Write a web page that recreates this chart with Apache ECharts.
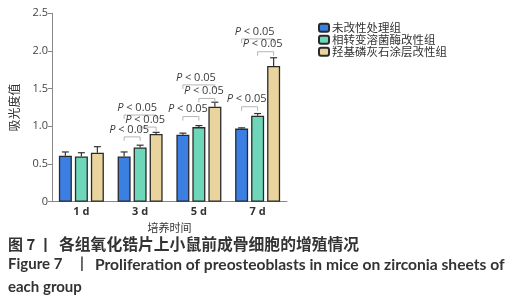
<!DOCTYPE html>
<html>
<head>
<meta charset="utf-8">
<script src="https://cdn.jsdelivr.net/npm/echarts@6/dist/echarts.min.js"></script>
<style>html,body{margin:0;padding:0;background:#fff}#c{width:518px;height:300px}</style>
</head>
<body>
<div id="c"></div>
<script>
const categories = ['1 d', '3 d', '5 d', '7 d'];
const groupNames = ['未改性处理组', '相转变溶菌酶改性组', '羟基磷灰石涂层改性组'];
const untreated = [0.61, 0.60, 0.89, 0.97];
const untreatedErr = [0.05, 0.06, 0.02, 0.01];
const lysozyme = [0.60, 0.72, 0.99, 1.14];
const lysozymeErr = [0.05, 0.03, 0.02, 0.03];
const hydroxyapatite = [0.65, 0.90, 1.26, 1.80];
const hydroxyapatiteErr = [0.08, 0.02, 0.06, 0.11];
const yTicks = [0, 0.5, 1.0, 1.5, 2.0, 2.5];
// significance brackets: [category index, from group, to group, bracket level]
const brackets = [
  [1, 0, 2, 1.15], [1, 1, 2, 0.99], [1, 0, 1, 0.86],
  [2, 0, 2, 1.55], [2, 1, 2, 1.37], [2, 0, 1, 1.13],
  [3, 0, 2, 2.16], [3, 1, 2, 1.99], [3, 0, 1, 1.26]
];
const sigLabel = 'P < 0.05';

const values = [untreated, lysozyme, hydroxyapatite];
const errs = [untreatedErr, lysozymeErr, hydroxyapatiteErr];
const colors = ['#3b7fe3', '#6ed7b9', '#e9d49d'];
const BW = 13, GAP = 3;
const off = g => (g - 1) * (BW + GAP);

const errData = [];
values.forEach((arr, g) => arr.forEach((v, i) => errData.push([i, g, v, v + errs[g][i]])));

const chart = echarts.init(document.getElementById('c'), null, {renderer: 'canvas'});
const font = '"Noto Sans CJK SC", "Noto Sans", sans-serif';

const option = {
  animation: false,
  backgroundColor: '#fff',
  textStyle: {fontFamily: font},
  grid: {left: 52, right: 231, top: 13.3, bottom: 98.3, containLabel: false},
  legend: {
    orient: 'vertical', left: 313, top: 17,
    itemWidth: 10, itemHeight: 8, itemGap: 0.5,
    data: groupNames,
    textStyle: {fontSize: 11.5, color: '#333', lineHeight: 11.5, padding: [0, 0, 0, -2], fontFamily: font}
  },
  xAxis: {
    type: 'category', data: categories,
    axisLine: {lineStyle: {color: '#888', width: 1}},
    axisTick: {alignWithLabel: true, length: 3, lineStyle: {color: '#888'}},
    axisLabel: {color: '#333', fontSize: 11, fontWeight: 'bold', margin: 5, fontFamily: 'Open Sans'},
    name: '培养时间', nameLocation: 'middle', nameGap: 17,
    nameTextStyle: {fontSize: 11, color: '#333', fontFamily: font}
  },
  yAxis: {
    type: 'value', min: yTicks[0], max: yTicks[yTicks.length - 1], interval: 0.5,
    splitLine: {show: false},
    axisLine: {show: true, lineStyle: {color: '#888', width: 1}},
    axisTick: {show: true, length: 4, lineStyle: {color: '#888'}},
    axisLabel: {color: '#444', fontSize: 11, margin: 4, fontFamily: 'Open Sans',
      formatter: v => v === 0 ? '0' : v.toFixed(1)},
    name: '吸光度值', nameLocation: 'middle', nameGap: 32, nameRotate: 90,
    nameTextStyle: {fontSize: 12, color: '#333', fontFamily: font}
  },
  series: [
    ...values.map((arr, g) => ({
      type: 'bar', name: groupNames[g], data: arr, barWidth: BW, barGap: (GAP / BW * 100) + '%',
      itemStyle: {color: colors[g], borderColor: '#2a2a2a', borderWidth: 1.3}
    })),
    {
      type: 'custom', name: 'err', silent: true, clip: false, z: 5,
      encode: {x: 0, y: 3},
      data: errData,
      renderItem: (params, api) => {
        const c = api.value(0), g = api.value(1);
        const p0 = api.coord([c, api.value(2)]);
        const p1 = api.coord([c, api.value(3)]);
        const x = p0[0] + off(g);
        const st = {stroke: '#333', lineWidth: 1.2};
        return {type: 'group', children: [
          {type: 'line', shape: {x1: x, y1: p0[1], x2: x, y2: p1[1]}, style: st},
          {type: 'line', shape: {x1: x - 3.5, y1: p1[1], x2: x + 3.5, y2: p1[1]}, style: st}
        ]};
      }
    },
    {
      type: 'custom', name: 'sig', silent: true, clip: false, z: 6,
      encode: {x: 0, y: 3},
      data: brackets,
      renderItem: (params, api) => {
        const c = api.value(0), a = api.value(1), b = api.value(2), lvl = api.value(3);
        const p = api.coord([c, lvl]);
        const x1 = p[0] + off(a), x2 = p[0] + off(b), y = p[1];
        const st = {stroke: '#b5b5b5', lineWidth: 1, fill: null};
        return {type: 'group', children: [
          {type: 'polyline', shape: {points: [[x1, y + 4], [x1, y], [x2, y], [x2, y + 4]]}, style: st},
          {type: 'text', x: (x1 + x2) / 2 - 3, y: y - 2, style: {
            text: '{i|P} < 0.05', textAlign: 'center', textVerticalAlign: 'bottom',
            fill: '#3a3a3a', font: '11px "Open Sans", sans-serif',
            rich: {i: {fontStyle: 'italic', fontSize: 11, fill: '#3a3a3a', fontFamily: 'Open Sans'}}
          }}
        ]};
      }
    }
  ],
  graphic: [
    {type: 'text', left: 8, top: 237, style: {text: '图 7', fill: '#333', font: 'bold 15px "Noto Sans CJK SC"'}},
    {type: 'text', left: 38, top: 237, style: {text: '丨', fill: '#333', font: 'bold 15px "Noto Sans CJK SC"'}},
    {type: 'text', left: 59, top: 236, style: {text: '各组氧化锆片上小鼠前成骨细胞的增殖情况', fill: '#333', font: 'bold 15.8px "Noto Sans CJK SC"'}},
    {type: 'text', left: 8, top: 257, style: {text: 'Figure 7', fill: '#333', font: 'bold 15px Lato'}},
    {type: 'text', left: 80, top: 256, style: {text: '|', fill: '#333', font: 'bold 15px Lato'}},
    {type: 'text', left: 95, top: 257, style: {text: 'Proliferation of preosteoblasts in mice on zirconia sheets of', fill: '#333', font: 'bold 15.6px Lato'}},
    {type: 'text', left: 8, top: 280, style: {text: 'each group', fill: '#333', font: 'bold 15px Lato'}}
  ]
};
chart.setOption(option);
</script>
</body>
</html>
